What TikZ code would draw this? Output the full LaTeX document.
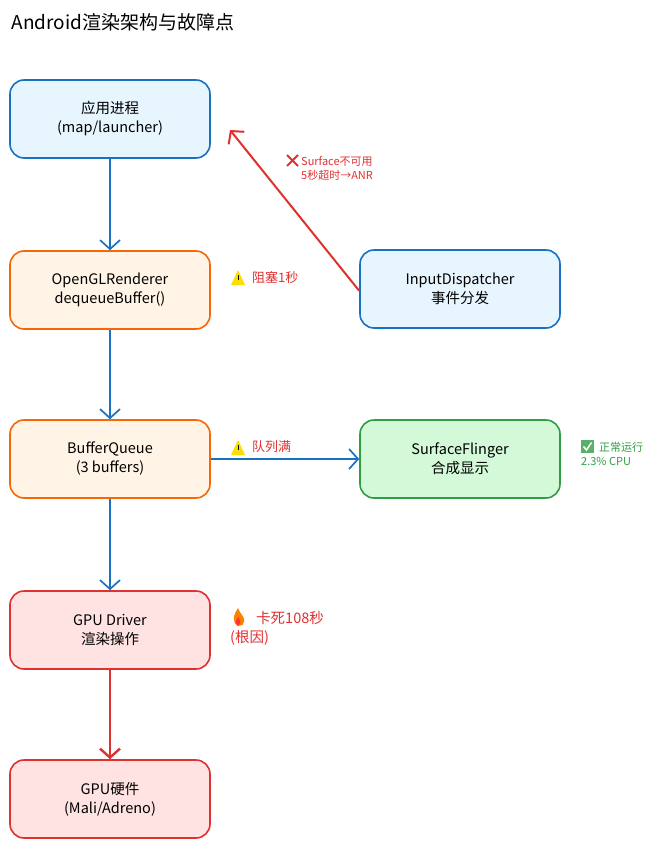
\documentclass[tikz,border=0pt]{standalone}
\usepackage{fontspec}
\setmainfont{Noto Sans CJK SC}
\usetikzlibrary{arrows.meta}
\definecolor{bblue}{HTML}{1971C2}\definecolor{fblue}{HTML}{E7F5FF}
\definecolor{borange}{HTML}{F76707}\definecolor{forange}{HTML}{FFF4E6}
\definecolor{bred}{HTML}{E03131}\definecolor{fred}{HTML}{FFE3E3}
\definecolor{bgreen}{HTML}{2F9E44}\definecolor{fgreen}{HTML}{D3F9D8}
\begin{document}
\begin{tikzpicture}[x=1pt,y=-1pt,
 box/.style={draw=#1,line width=1.6pt,rounded corners=14pt,minimum width=200pt,minimum height=78pt,align=center,font=\fontsize{14.5}{19}\selectfont,inner sep=2pt},
 note/.style={anchor=west,align=left,font=\fontsize{11}{14}\selectfont,inner sep=0pt},
 arr/.style={-{Straight Barb[length=9pt,width=20pt]},line width=1.7pt,draw=bblue}]
\useasboundingbox (0,0) rectangle (657,850);
\fill[white] (0,0) rectangle (657,850);
\node[anchor=west,font=\fontsize{19}{22}\selectfont] (title) at (8,22) {Android渲染架构与故障点};
\node[box=bblue,fill=fblue] (app) at (110,119) {应用进程\\(map/launcher)};
\node[box=borange,fill=forange] (gl) at (110,290) {OpenGLRenderer\\dequeueBuffer()};
\node[box=borange,fill=forange] (bq) at (110,459) {BufferQueue\\(3 buffers)};
\node[box=bred,fill=fred] (drv) at (110,630) {GPU Driver\\渲染操作};
\node[box=bred,fill=fred] (hw) at (110,799) {GPU硬件\\(Mali/Adreno)};
\node[box=bblue,fill=fblue] (inp) at (460,289) {InputDispatcher\\事件分发};
\node[box=bgreen,fill=fgreen] (sf) at (460,459) {SurfaceFlinger\\合成显示};
\draw[arr] (app) -- (gl);
\draw[arr] (gl) -- (bq);
\draw[arr] (bq) -- (drv);
\draw[arr,draw=bred,line width=2.4pt] (drv) -- (hw);
\draw[arr] (bq.east) -- (sf.west);
\coordinate (tip) at (230,130);
\draw[arr,draw=bred,line width=2pt] (inp.south west) ++(0,-38) -- (tip);
% annotations
\node[note,text=bred] (n1) at (301,168) {Surface不可用\\5秒超时→ANR};
\draw[bred,line width=2pt] (287,155)--(298,166) (298,155)--(287,166);
\node[note,text=bred,font=\fontsize{13}{15}\selectfont] (n2) at (252,277) {阻塞1秒};
\node[note,text=bred,font=\fontsize{13}{15}\selectfont] (n3) at (252,447) {队列满};
\foreach \y in {277,447}{\fill[yellow!80!orange] (231,\y+8)--(245,\y+8)--(238,\y-7)--cycle;
 \draw[black,line width=1pt] (238,\y-2)--(238,\y+3);}
\node[note,text=bgreen] (n4) at (581,454) {\hspace{18pt}正常运行\\2.3\% CPU};
\fill[bgreen!80] (581,440) rectangle (594,453);
\draw[white,line width=1.5pt] (583.5,446.5)--(586.5,450)--(591.5,442.5);
\node[note,text=bred,font=\fontsize{14.5}{19}\selectfont] (n5) at (230,628) {\hspace{26pt}卡死108秒\\(根因)};
\fill[orange] (238,626) .. controls (231,622) and (234,614) .. (238,608) .. controls (240,614) and (246,618) .. (244,622) .. controls (243,625) .. (238,626);
\fill[red!80] (238,626) .. controls (235,622) .. (238,617) .. controls (241,622) .. (238,626);
\end{tikzpicture}
\end{document}
